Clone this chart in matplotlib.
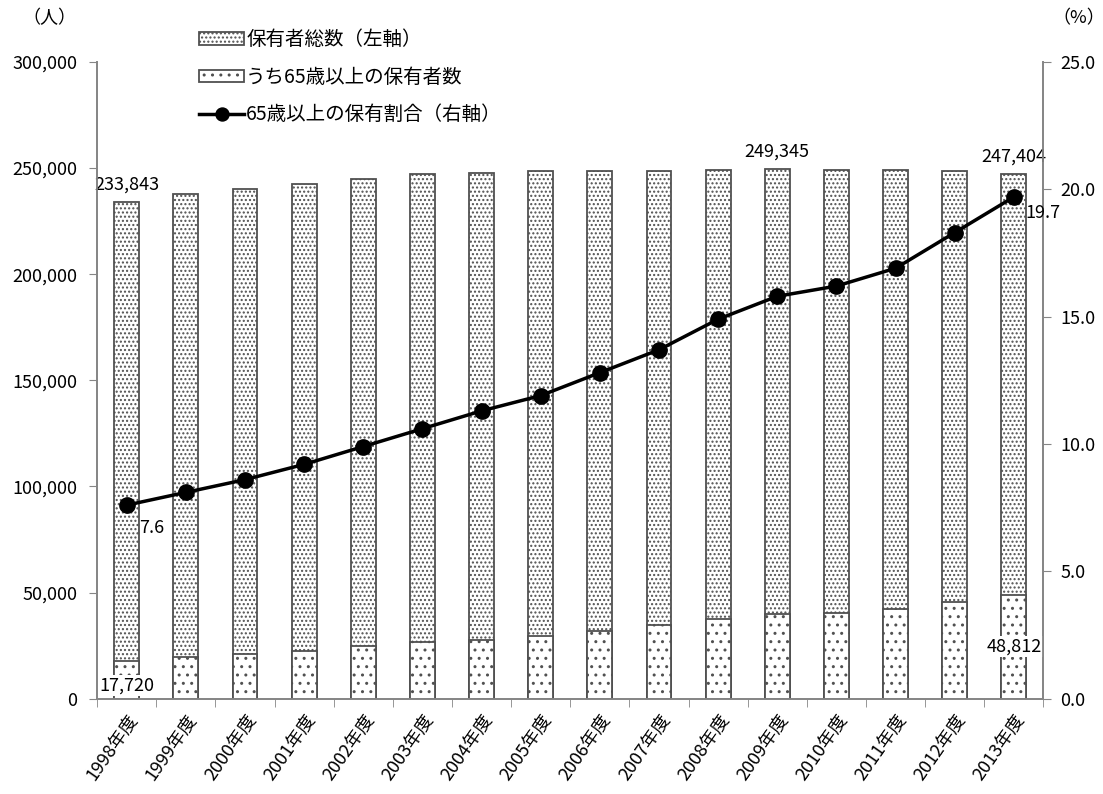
"""Driver's licence holders and the share aged 65 and over."""

import numpy as np
import matplotlib.pyplot as plt
from matplotlib.ticker import FuncFormatter, FixedLocator

plt.rcParams["font.family"] = ["Noto Sans CJK JP", "DejaVu Sans"]
plt.rcParams["hatch.linewidth"] = 1.0

# Fiscal years and values
years = ["1998年度", "1999年度", "2000年度", "2001年度", "2002年度", "2003年度",
         "2004年度", "2005年度", "2006年度", "2007年度", "2008年度", "2009年度",
         "2010年度", "2011年度", "2012年度", "2013年度"]
holders_total = [233843, 237800, 240300, 242500, 245000, 247000, 247800, 248500,
                 248600, 248600, 248900, 249345, 249300, 249000, 248500, 247404]
holders_65 = [17720, 19700, 21100, 22500, 24800, 26700, 27700, 29600,
              31900, 34600, 37500, 40000, 40600, 42100, 45400, 48812]
share_65 = [7.6, 8.1, 8.6, 9.2, 9.9, 10.6, 11.3, 11.9,
            12.8, 13.7, 14.9, 15.8, 16.2, 16.9, 18.3, 19.7]

edge = "#505050"
spine = "#868686"
x = np.arange(len(years))

fig = plt.figure(figsize=(11.03, 7.94), dpi=100)
ax = fig.add_axes([0.088, 0.12, 0.858, 0.802])
ax2 = ax.twinx()

ax.bar(x, holders_total, width=0.42, color="white", edgecolor=edge,
       linewidth=1.3, hatch="....", label="保有者総数（左軸）", zorder=2)
ax.bar(x, holders_65, width=0.42, color="white", edgecolor=edge,
       linewidth=1.3, hatch="..", label="うち65歳以上の保有者数", zorder=3)

ax2.plot(x, share_65, color="black", linewidth=2.5, marker="o",
         markersize=11, label="65歳以上の保有割合（右軸）", zorder=4)

ax.set_xlim(-0.5, len(years) - 0.5)
ax.set_ylim(0, 300000)
ax2.set_ylim(0, 25)
ax.set_yticks(np.arange(0, 300001, 50000))
ax2.set_yticks(np.arange(0, 25.01, 5))
ax.yaxis.set_major_formatter(FuncFormatter(lambda v, p: f"{int(v):,}"))
ax2.yaxis.set_major_formatter(FuncFormatter(lambda v, p: f"{v:.1f}"))

ax.set_xticks(x)
ax.set_xticklabels(years, rotation=55, ha="right", rotation_mode="anchor",
                   fontsize=13)
ax.tick_params(axis="x", length=0, pad=9)
ax.xaxis.set_minor_locator(FixedLocator(np.arange(-0.5, len(years), 1)))
ax.tick_params(axis="x", which="minor", length=6, color=spine)
ax.tick_params(axis="y", labelsize=13, length=6, color=spine, pad=8)
ax2.tick_params(axis="y", labelsize=13, length=6, color=spine, pad=6)

for a in (ax, ax2):
    a.spines["top"].set_visible(False)
    for s in ("left", "right", "bottom"):
        a.spines[s].set_color(spine)
        a.spines[s].set_linewidth(1.3)

# Value labels
lbl = dict(fontsize=13, ha="center")
for i in (0, 11, 15):
    ax.annotate(f"{holders_total[i]:,}", (x[i], holders_total[i]),
                xytext=(0, 6), textcoords="offset points", va="bottom", **lbl)
ax.annotate(f"{holders_65[0]:,}", (x[0], 0), xytext=(0, 3),
            textcoords="offset points", va="bottom", zorder=5,
            bbox=dict(facecolor="white", edgecolor="none", pad=1), **lbl)
ax.annotate(f"{holders_65[-1]:,}", (x[-1], holders_65[-1] / 2),
            va="center", zorder=5,
            bbox=dict(facecolor="white", edgecolor="none", pad=1), **lbl)
ax2.annotate(f"{share_65[0]:.1f}", (x[0], share_65[0]), xytext=(9, -10),
             textcoords="offset points", ha="left", va="top", fontsize=13)
ax2.annotate(f"{share_65[-1]:.1f}", (x[-1], share_65[-1]), xytext=(8, -5),
             textcoords="offset points", ha="left", va="top", fontsize=13)

fig.text(0.045, 0.977, "（人）", fontsize=13, va="center", ha="center")
fig.text(0.978, 0.977, "（%）", fontsize=13, va="center", ha="center")

h1, l1 = ax.get_legend_handles_labels()
h2, l2 = ax2.get_legend_handles_labels()
fig.legend(h1 + h2, l1 + l2, loc="upper left", bbox_to_anchor=(0.165, 0.985),
           frameon=False, fontsize=14, handlelength=2.3, handleheight=0.6,
           handletextpad=0.1, labelspacing=0.85, markerscale=0.85)

fig.savefig("out.png", dpi=100)
